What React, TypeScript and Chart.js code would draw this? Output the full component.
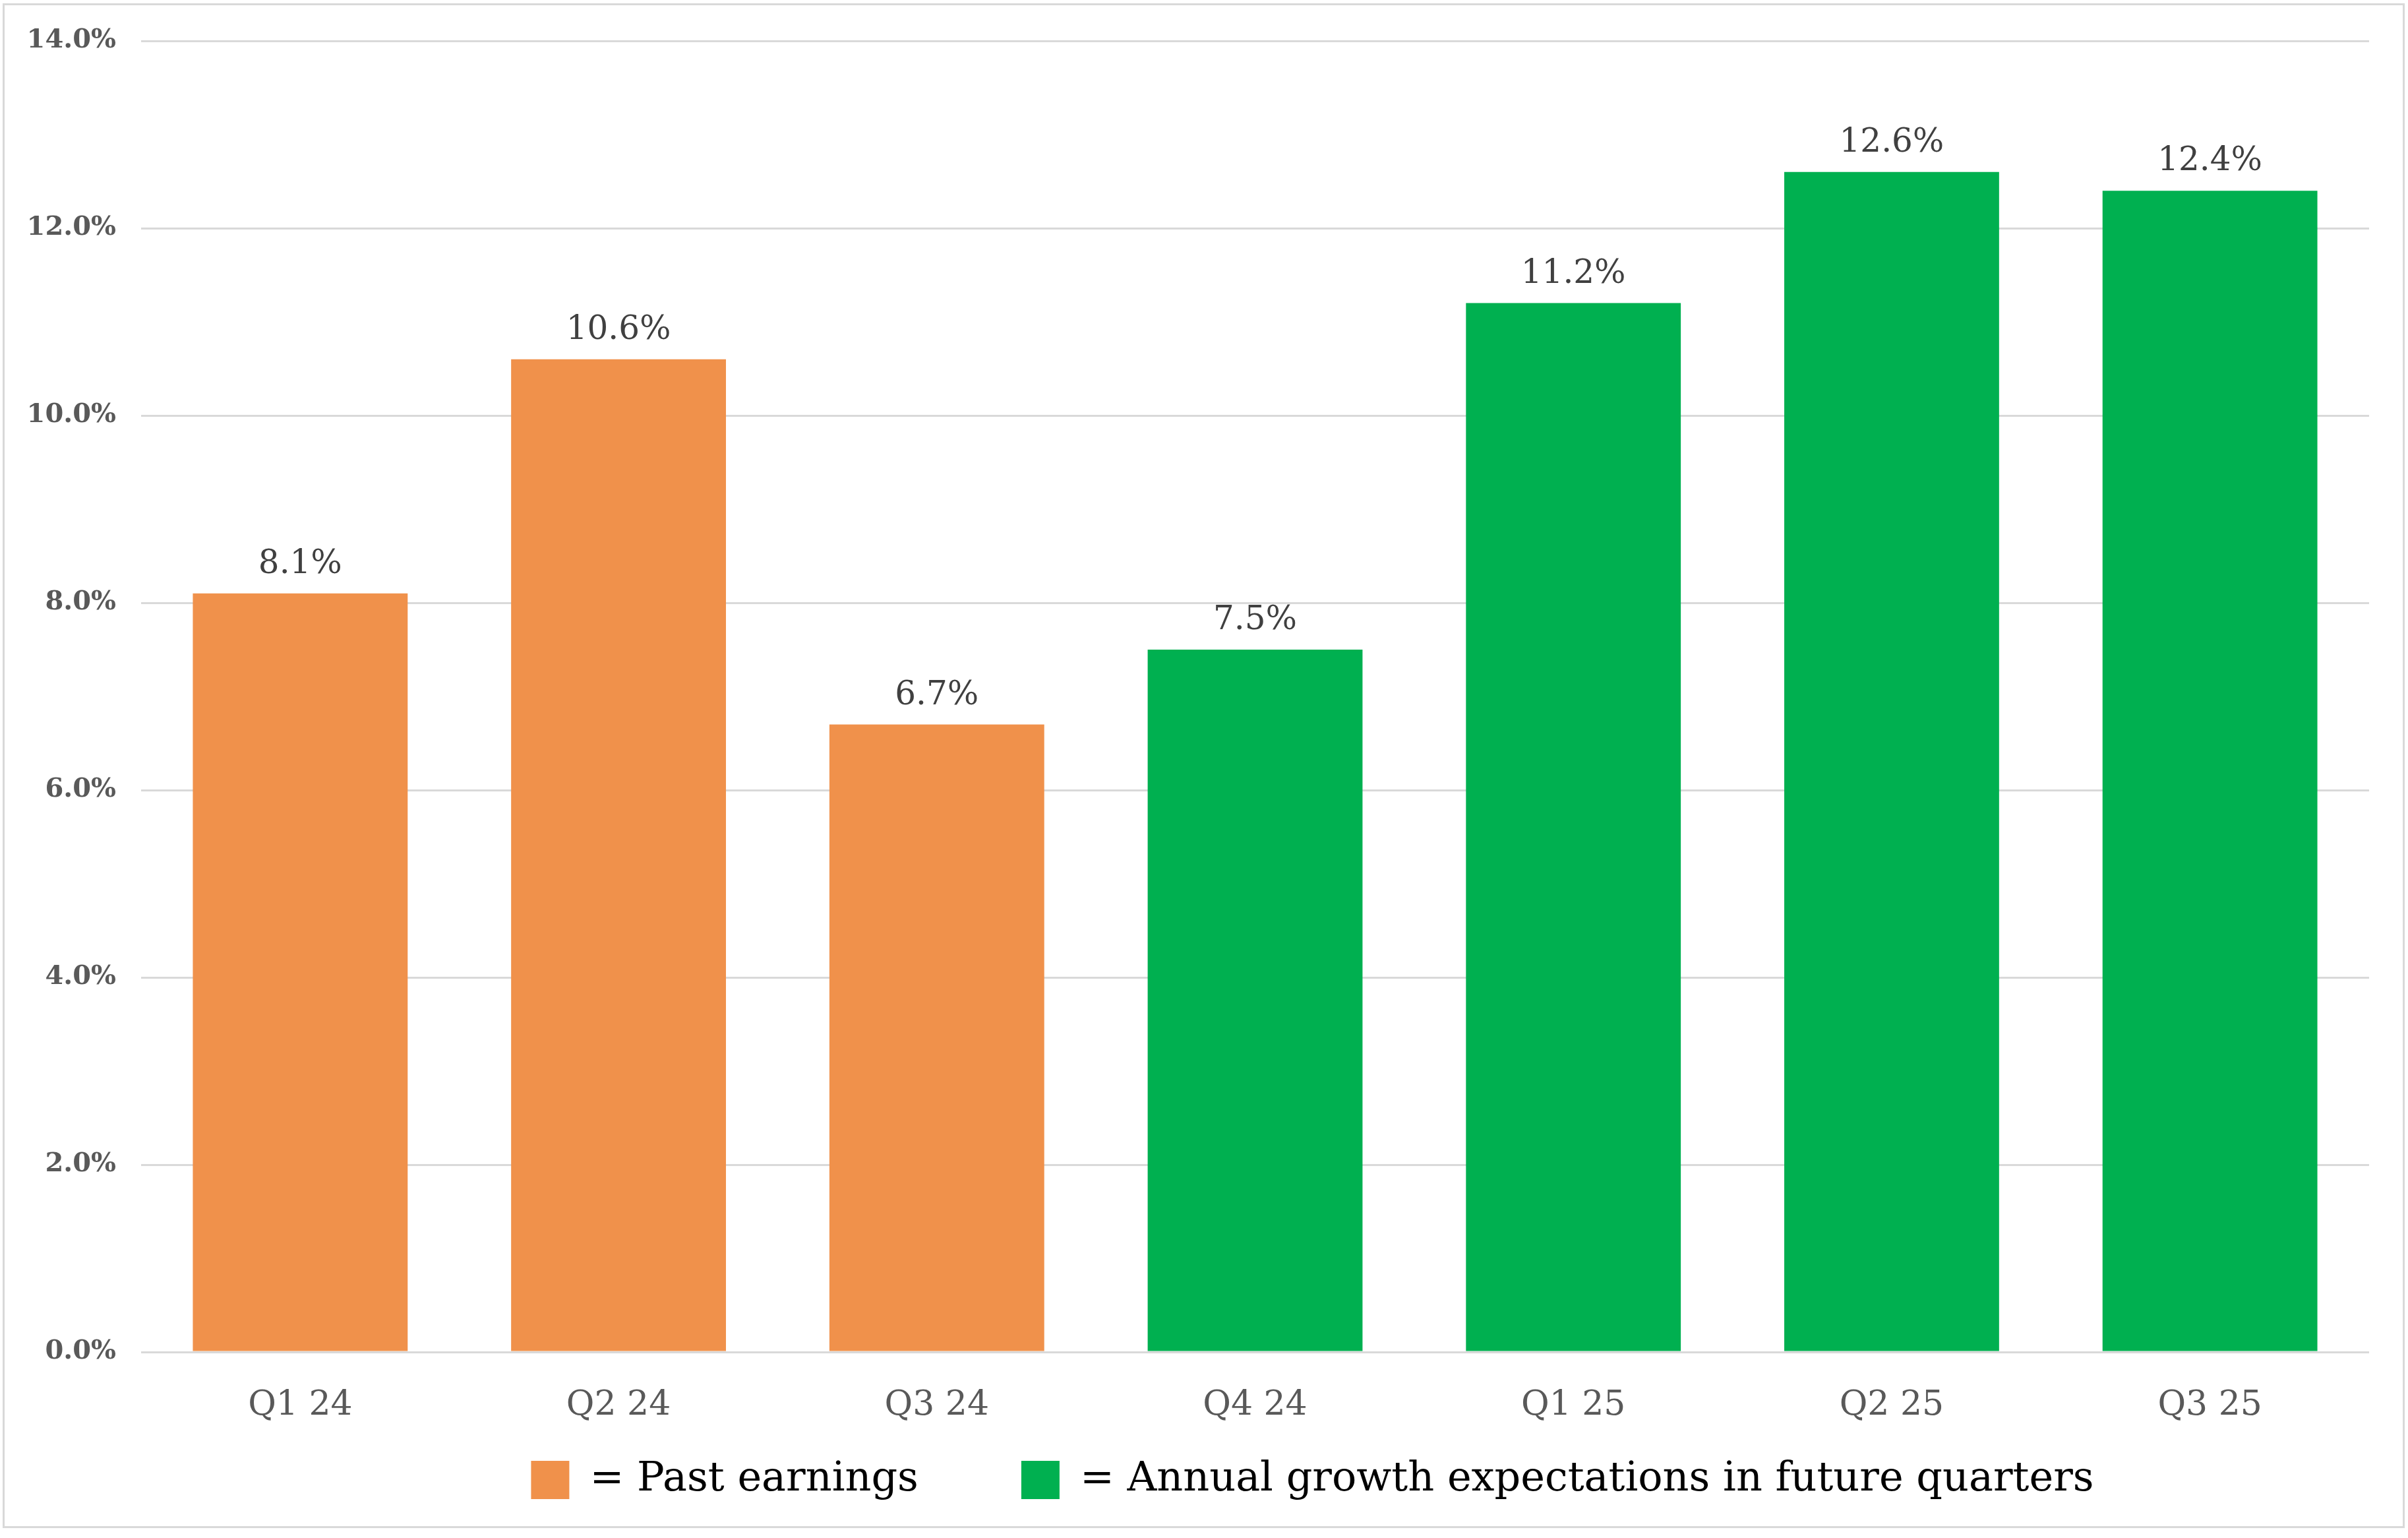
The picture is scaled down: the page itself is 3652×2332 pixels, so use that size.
import React, { useEffect, useRef } from "react";
import { Chart, registerables } from "chart.js";

Chart.register(...registerables);

const categories = ["Q1 24", "Q2 24", "Q3 24", "Q4 24", "Q1 25", "Q2 25", "Q3 25"];
const pastEarnings: (number | null)[] = [8.1, 10.6, 6.7, null, null, null, null];
const futureGrowth: (number | null)[] = [null, null, null, 7.5, 11.2, 12.6, 12.4];
const legendLabels = ["= Past earnings", "= Annual growth expectations in future quarters"];
const yMin = 0;
const yMax = 14;
const yStep = 2;

const ORANGE = "#F0914B";
const GREEN = "#00B050";
const FONT = "'DejaVu Serif', Georgia, serif";

const valueLabels = {
  id: "valueLabels",
  afterDatasetsDraw(chart: any) {
    const ctx = chart.ctx;
    ctx.save();
    ctx.font = `50px ${FONT}`;
    ctx.fillStyle = "#404040";
    ctx.textAlign = "center";
    ctx.textBaseline = "alphabetic";
    chart.data.datasets.forEach((ds: any, di: number) => {
      const meta = chart.getDatasetMeta(di);
      meta.data.forEach((el: any, i: number) => {
        const v = ds.data[i];
        if (v === null || v === undefined) return;
        ctx.fillText(`${v.toFixed(1)}%`, el.x, el.y - 31);
      });
    });
    ctx.restore();
  },
};

// the x axis is fitted thin so the wide-spaced legend sits close to it;
// give its label band room again after layout so the labels are not clipped,
// and nudge the legend row to the right like the original
const layoutTweaks = {
  id: "layoutTweaks",
  afterLayout(chart: any) {
    const x = chart.scales.x;
    x.bottom = x.top + 140;
    x.height = 140;
    const lg = chart.legend;
    if (lg) {
      lg.left += 87;
      lg.right += 87;
    }
  },
};

export default function App() {
  const ref = useRef<HTMLCanvasElement | null>(null);

  useEffect(() => {
    if (!ref.current) return;
    const chart = new Chart(ref.current, {
      type: "bar",
      data: {
        labels: categories,
        datasets: [
          {
            label: legendLabels[0],
            data: pastEarnings,
            backgroundColor: ORANGE,
            borderWidth: 0,
            barPercentage: 0.675,
            categoryPercentage: 1,
            skipNull: true,
          } as any,
          {
            label: legendLabels[1],
            data: futureGrowth,
            backgroundColor: GREEN,
            borderWidth: 0,
            barPercentage: 0.675,
            categoryPercentage: 1,
            skipNull: true,
          } as any,
        ],
      },
      options: {
        animation: false,
        responsive: true,
        maintainAspectRatio: false,
        layout: { padding: { left: 0, right: 59, top: 60, bottom: 47 } },
        plugins: {
          tooltip: { enabled: false },
          legend: {
            position: "bottom",
            fullSize: false,
            labels: {
              boxWidth: 58,
              boxHeight: 58,
              padding: 156,
              color: "#000000",
              font: { family: FONT, size: 62, lineHeight: 1.2 },
            },
          },
        },
        scales: {
          x: {
            grid: { display: false, drawTicks: false },
            border: { display: false },
            ticks: {
              color: "#595959",
              padding: 50,
              font: { family: FONT, size: 52, lineHeight: 1.2 },
            },
            afterFit: (s: any) => {
              s.height = 7;
            },
          },
          y: {
            min: yMin,
            max: yMax,
            grid: { color: "#D9D9D9", lineWidth: 3, drawTicks: false },
            border: { display: false },
            ticks: {
              stepSize: yStep,
              color: "#595959",
              padding: 38,
              font: { family: FONT, size: 40, weight: "bold" },
              callback: (v: any) => `${Number(v).toFixed(1)}%`,
            },
            afterFit: (s: any) => {
              s.width = 214;
            },
          },
        },
      } as any,
      plugins: [valueLabels, layoutTweaks],
    });
    return () => chart.destroy();
  }, []);

  return (
    <div
      style={{
        position: "fixed",
        left: 0,
        top: 0,
        width: 3652,
        height: 2332,
        background: "#ffffff",
      }}
    >
      <div
        style={{
          position: "absolute",
          left: 4,
          top: 5,
          width: 3643,
          height: 2312,
          boxSizing: "border-box",
          border: "3px solid #D9D9D9",
        }}
      />
      <div style={{ position: "absolute", left: 0, top: 0, width: 3652, height: 2332 }}>
        <canvas ref={ref} />
      </div>
    </div>
  );
}
